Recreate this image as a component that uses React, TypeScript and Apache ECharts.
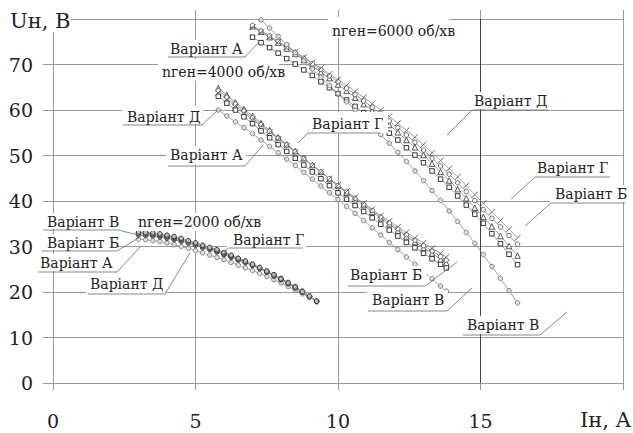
import React, { useEffect, useRef } from "react";
import * as echarts from "echarts";

const FONT = "DejaVu Serif";

// Load current, A — sample points of each speed family
const current6000 = [7.0, 7.3, 7.6, 7.9, 8.2, 8.5, 8.8, 9.1, 9.4, 9.7, 10.0, 10.3, 10.6, 10.9, 11.2, 11.5, 11.8, 12.1, 12.4, 12.7, 13.0, 13.3, 13.6, 13.9, 14.2, 14.5, 14.8, 15.1, 15.4, 15.7, 16.0, 16.3];
const current4000 = [5.8, 6.1, 6.4, 6.7, 7.0, 7.3, 7.6, 7.9, 8.2, 8.5, 8.8, 9.1, 9.4, 9.7, 10.0, 10.3, 10.6, 10.9, 11.2, 11.5, 11.8, 12.1, 12.4, 12.7, 13.0, 13.3, 13.6, 13.8];
const current2000 = [3.0, 3.25, 3.5, 3.75, 4.0, 4.25, 4.5, 4.75, 5.0, 5.25, 5.5, 5.75, 6.0, 6.25, 6.5, 6.75, 7.0, 7.25, 7.5, 7.75, 8.0, 8.25, 8.5, 8.75, 9.0, 9.25];

// Load voltage, V — n = 6000 rpm
const u6000A = [76.0, 74.8, 73.7, 72.5, 71.3, 70.1, 68.8, 67.6, 66.2, 64.9, 63.6, 62.2, 60.8, 59.4, 57.9, 56.4, 54.9, 53.4, 51.7, 50.1, 48.4, 46.6, 44.8, 43.0, 41.1, 39.1, 37.1, 35.1, 32.8, 30.6, 28.3, 26.0];
const u6000B = [78.4, 77.2, 76.0, 74.8, 73.5, 72.3, 71.0, 69.7, 68.3, 67.0, 65.6, 64.2, 62.7, 61.3, 59.8, 58.2, 56.7, 55.1, 53.4, 51.8, 50.1, 48.2, 46.4, 44.5, 42.6, 40.6, 38.5, 36.5, 34.4, 32.3, 30.1, 28.0];
const u6000V = [81.6, 79.8, 78.0, 76.2, 74.4, 72.6, 70.8, 69.0, 67.2, 65.4, 63.6, 61.8, 60.0, 58.2, 56.4, 54.6, 52.7, 50.7, 48.7, 46.6, 44.5, 42.3, 40.1, 37.8, 35.5, 33.1, 30.7, 28.2, 25.6, 23.0, 20.3, 17.6];
const u6000G = [78.6, 77.4, 76.3, 75.1, 73.9, 72.7, 71.4, 70.2, 68.9, 67.5, 66.2, 64.8, 63.4, 62.0, 60.6, 59.1, 57.6, 56.1, 54.5, 52.9, 51.2, 49.4, 47.7, 45.9, 44.0, 42.1, 40.1, 38.1, 36.2, 34.3, 32.4, 30.5];
const u6000D = [78.2, 77.1, 76.1, 75.0, 73.9, 72.8, 71.6, 70.4, 69.2, 67.9, 66.7, 65.4, 64.1, 62.8, 61.4, 60.0, 58.6, 57.1, 55.5, 54.0, 52.4, 50.6, 48.9, 47.1, 45.3, 43.4, 41.4, 39.5, 37.6, 35.7, 33.8, 31.9];

// Load voltage, V — n = 4000 rpm
const u4000A = [63.0, 61.5, 60.0, 58.5, 57.0, 55.4, 53.9, 52.4, 50.9, 49.4, 47.9, 46.4, 44.9, 43.4, 41.8, 40.4, 39.0, 37.7, 36.3, 34.9, 33.6, 32.3, 30.9, 29.7, 28.5, 27.3, 26.1, 25.3];
const u4000B = [64.8, 63.3, 61.7, 60.2, 58.7, 57.1, 55.6, 54.0, 52.5, 51.0, 49.4, 47.9, 46.4, 44.8, 43.3, 41.8, 40.4, 39.1, 37.6, 36.2, 34.9, 33.5, 32.2, 31.0, 29.7, 28.5, 27.2, 26.4];
const u4000V = [60.0, 58.7, 57.4, 56.1, 54.8, 53.4, 52.0, 50.6, 49.2, 47.8, 46.3, 44.8, 43.3, 41.8, 40.3, 38.8, 37.3, 35.7, 34.1, 32.5, 30.9, 29.3, 27.7, 26.1, 24.5, 22.9, 21.3, 20.2];
const u4000G = [64.3, 62.8, 61.3, 59.8, 58.3, 56.8, 55.3, 53.8, 52.3, 50.8, 49.3, 47.8, 46.4, 44.9, 43.4, 42.0, 40.6, 39.3, 37.9, 36.5, 35.2, 33.9, 32.6, 31.4, 30.2, 29.0, 27.8, 27.0];
const u4000D = [63.8, 62.3, 60.9, 59.4, 58.0, 56.5, 55.1, 53.6, 52.2, 50.7, 49.3, 47.8, 46.4, 44.9, 43.5, 42.1, 40.8, 39.5, 38.2, 36.8, 35.6, 34.3, 33.1, 31.9, 30.8, 29.6, 28.5, 27.7];

// Load voltage, V — n = 2000 rpm
const u2000A = [32.5, 32.4, 32.3, 32.1, 31.8, 31.5, 31.1, 30.7, 30.2, 29.7, 29.3, 28.8, 28.2, 27.6, 27.0, 26.4, 25.8, 25.1, 24.3, 23.5, 22.7, 21.8, 20.9, 20.0, 19.0, 17.9];
const u2000B = [32.8, 32.7, 32.6, 32.4, 32.1, 31.8, 31.4, 31.0, 30.5, 30.0, 29.5, 29.0, 28.4, 27.8, 27.2, 26.6, 25.9, 25.2, 24.4, 23.6, 22.8, 21.9, 21.0, 20.0, 19.0, 17.9];
const u2000V = [33.2, 33.1, 33.0, 32.8, 32.5, 32.2, 31.8, 31.3, 30.8, 30.3, 29.8, 29.3, 28.7, 28.1, 27.4, 26.8, 26.1, 25.4, 24.6, 23.8, 22.9, 22.0, 21.1, 20.1, 19.1, 18.0];
const u2000G = [33.0, 32.9, 32.8, 32.6, 32.3, 32.0, 31.6, 31.2, 30.7, 30.2, 29.7, 29.2, 28.6, 28.0, 27.4, 26.8, 26.1, 25.4, 24.6, 23.8, 23.0, 22.1, 21.2, 20.2, 19.1, 18.0];
const u2000D = [31.6, 31.5, 31.3, 31.1, 30.8, 30.4, 30.0, 29.6, 29.1, 28.6, 28.1, 27.6, 27.1, 26.5, 25.9, 25.3, 24.7, 24.1, 23.4, 22.7, 22.0, 21.2, 20.4, 19.6, 18.8, 17.9];

const xTicks = [0, 5, 10, 15];
const yTicks = [0, 10, 20, 30, 40, 50, 60, 70];

// Marker style for each design variant
const MARKERS: Record<string, { symbol: string; size: number; fill: string; stroke: string }> = {
  "А": { symbol: "rect", size: 4.5, fill: "#fff", stroke: "#222" },
  "Б": { symbol: "triangle", size: 5.5, fill: "#fff", stroke: "#444" },
  "В": { symbol: "circle", size: 4.5, fill: "#e0e0e0", stroke: "#777" },
  "Г": { symbol: "circle", size: 4.5, fill: "#fff", stroke: "#555" },
  "Д": { symbol: "path://M0 10L10 0", size: 6, fill: "none", stroke: "#555" },
};
// the low-speed family is drawn with small dark rings throughout
const LOW_SPEED_MARKER = { symbol: "circle", size: 4.5, fill: "#bbb", stroke: "#333" };

// Callouts: text, left/middle of text, white backing box [x0,y0,x1,y1], leader polyline
type Callout = { text: string; tx: number; ty: number; box: number[]; leader?: number[][]; size?: number };
const CALLOUTS: Callout[] = [
  { text: "Uн, В", tx: 10, ty: 20, box: [5, 7, 71, 32], size: 21 },
  { text: "nген=6000 об/хв", tx: 332, ty: 31, box: [328, 17, 449, 38] },
  { text: "nген=4000 об/хв", tx: 162, ty: 72, box: [158, 59, 279, 81] },
  { text: "nген=2000 об/хв", tx: 138, ty: 222, box: [134, 213, 256, 231] },
  { text: "Варіант А", tx: 170, ty: 49, box: [166, 40, 242, 57], leader: [[168, 57], [245, 57], [258, 43]] },
  { text: "Варіант Г", tx: 312, ty: 124, box: [305, 112, 388, 133], leader: [[380, 133], [308, 133], [298, 143]] },
  { text: "Варіант Д", tx: 474, ty: 101, box: [470, 92, 549, 109], leader: [[548, 110], [472, 110], [447, 135]] },
  { text: "Варіант Г", tx: 537, ty: 168, box: [533, 159, 611, 176], leader: [[610, 177], [535, 177], [511, 199]] },
  { text: "Варіант Б", tx: 555, ty: 194, box: [550, 185, 626, 202], leader: [[625, 203], [551, 203], [525, 226]] },
  { text: "Варіант В", tx: 467, ty: 325, box: [462, 316, 541, 334], leader: [[463, 335], [540, 335], [567, 312]] },
  { text: "Варіант Д", tx: 127, ty: 117, box: [122, 106, 203, 124], leader: [[123, 125], [202, 125], [218, 110]] },
  { text: "Варіант А", tx: 170, ty: 155, box: [166, 146, 246, 165], leader: [[168, 166], [245, 166], [263, 145]] },
  { text: "Варіант Б", tx: 350, ty: 275, box: [346, 266, 426, 285], leader: [[348, 286], [425, 286], [457, 262]] },
  { text: "Варіант В", tx: 372, ty: 300, box: [367, 290, 448, 310], leader: [[368, 311], [447, 311], [472, 288]] },
  { text: "Варіант В", tx: 47, ty: 222, box: [42, 213, 119, 229], leader: [[43, 230], [118, 230], [138, 235]] },
  { text: "Варіант Б", tx: 47, ty: 243, box: [41, 234, 118, 250], leader: [[42, 251], [117, 251], [140, 237]] },
  { text: "Варіант А", tx: 40, ty: 263, box: [36, 254, 118, 271], leader: [[38, 272], [117, 272], [140, 247]] },
  { text: "Варіант Д", tx: 90, ty: 284, box: [86, 275, 166, 293], leader: [[88, 294], [165, 294], [190, 253]] },
  { text: "Варіант Г", tx: 233, ty: 240, box: [227, 231, 306, 247], leader: [[303, 248], [228, 248], [222, 257]] },
];

function curve(name: string, xs: number[], ys: number[], m: { symbol: string; size: number; fill: string; stroke: string }) {
  return {
    type: "line",
    name,
    data: xs.map((x, i) => [x, ys[i]]),
    symbol: m.symbol,
    symbolSize: m.size,
    showSymbol: true,
    showAllSymbol: true,
    silent: true,
    lineStyle: { color: "#8a8a8a", width: 0.8 },
    itemStyle: { color: m.fill, borderColor: m.stroke, borderWidth: 0.9 },
    z: 2,
  };
}

// plain text element, placed by its top-left corner
function label(text: string, x: number, yMiddle: number, size: number) {
  return {
    type: "text",
    x,
    y: Math.round(yMiddle - size / 2),
    style: { text, font: `${size}px ${FONT}`, fill: "#222" },
    z: 11,
  };
}

function buildGraphic() {
  const els: any[] = [];
  CALLOUTS.forEach((c) => {
    els.push({
      type: "rect",
      shape: { x: c.box[0], y: c.box[1], width: c.box[2] - c.box[0], height: c.box[3] - c.box[1] },
      style: { fill: "#fff" },
      z: 10,
    });
    els.push(label(c.text, c.tx, c.ty, c.size ?? 14));
    if (c.leader) {
      els.push({
        type: "polyline",
        shape: { points: c.leader },
        style: { stroke: "#6a6a6a", lineWidth: 0.8, fill: "none" },
        z: 11,
      });
    }
  });
  els.push(label("Iн, A", 580, 419, 21));
  return els;
}

export default function App() {
  const ref = useRef<HTMLDivElement>(null);

  useEffect(() => {
    if (!ref.current) return;
    const chart = echarts.init(ref.current, undefined, { renderer: "svg" });
    const gridColor = "#999";
    chart.setOption({
      animation: false,
      backgroundColor: "#fff",
      grid: { left: 53, right: 10, top: 19, bottom: 50, containLabel: false },
      xAxis: [
        {
          type: "value",
          min: 0,
          max: 20,
          interval: 5,
          position: "bottom",
          axisLine: { show: false },
          axisTick: { show: true, length: 7, lineStyle: { color: gridColor, width: 1 } },
          axisLabel: {
            fontSize: 19,
            fontFamily: FONT,
            color: "#222",
            margin: 28,
            formatter: (v: number) => (xTicks.includes(v) ? String(v) : ""),
          },
          splitLine: { show: true, lineStyle: { color: [gridColor, gridColor, gridColor, "#444", gridColor], width: 1 } },
        },
        {
          type: "value",
          min: 0,
          max: 20,
          interval: 5,
          position: "top",
          axisLine: { show: false },
          axisTick: { show: true, length: 9, lineStyle: { color: gridColor, width: 1 } },
          axisLabel: { show: false },
          splitLine: { show: false },
        },
      ],
      yAxis: {
        type: "value",
        min: 0,
        max: 80,
        interval: 10,
        axisLine: { show: false },
        axisTick: { show: true, length: 10, lineStyle: { color: gridColor, width: 1 } },
        axisLabel: {
          fontSize: 19,
          fontFamily: FONT,
          color: "#222",
          margin: 20,
          formatter: (v: number) => (yTicks.includes(v) ? String(v) : ""),
        },
        splitLine: { show: true, lineStyle: { color: gridColor, width: 1 } },
      },
      series: [
        curve("6000 А", current6000, u6000A, MARKERS["А"]),
        curve("6000 Б", current6000, u6000B, MARKERS["Б"]),
        curve("6000 Г", current6000, u6000G, MARKERS["Г"]),
        curve("6000 Д", current6000, u6000D, MARKERS["Д"]),
        curve("6000 В", current6000, u6000V, MARKERS["В"]),
        curve("4000 А", current4000, u4000A, MARKERS["А"]),
        curve("4000 Б", current4000, u4000B, MARKERS["Б"]),
        curve("4000 Г", current4000, u4000G, MARKERS["Г"]),
        curve("4000 Д", current4000, u4000D, MARKERS["Д"]),
        curve("4000 В", current4000, u4000V, MARKERS["В"]),
        curve("2000 Д", current2000, u2000D, MARKERS["В"]),
        curve("2000 А", current2000, u2000A, LOW_SPEED_MARKER),
        curve("2000 Б", current2000, u2000B, LOW_SPEED_MARKER),
        curve("2000 Г", current2000, u2000G, LOW_SPEED_MARKER),
        curve("2000 В", current2000, u2000V, LOW_SPEED_MARKER),
      ],
      graphic: buildGraphic(),
    });
    return () => chart.dispose();
  }, []);

  return (
    <div
      ref={ref}
      style={{ position: "absolute", left: 0, top: 0, width: 633, height: 433, background: "#fff" }}
    />
  );
}
